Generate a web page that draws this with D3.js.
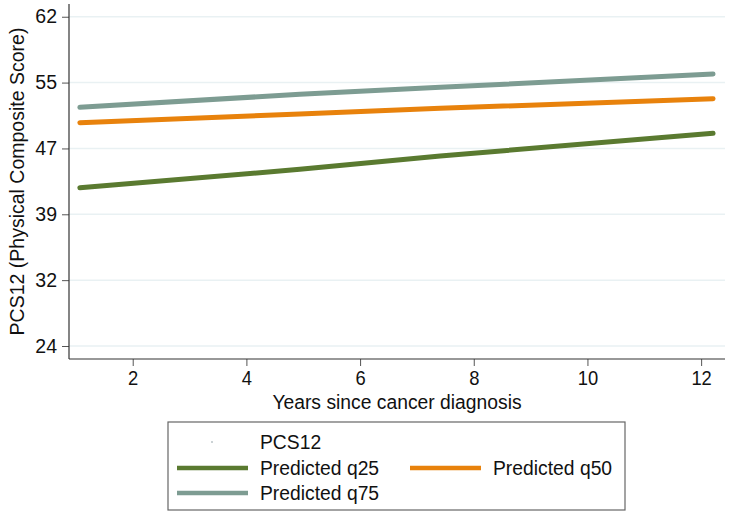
<!DOCTYPE html>
<html>
<head>
<meta charset="utf-8">
<script src="https://cdn.jsdelivr.net/npm/d3@7"></script>
<style>
  html, body { margin: 0; padding: 0; background: #fff; }
  svg { display: block; font-family: "Liberation Sans", Arial, sans-serif; }
</style>
</head>
<body>
<svg id="chart" width="733" height="516"></svg>
<script>
// ---- data ----
const years = [1.07, 4.94, 7.41, 12.21];
const q25 = [42.47, 44.59, 46.13, 48.75];
const q50 = [49.97, 50.97, 51.63, 52.74];
const q75 = [51.75, 53.25, 54.05, 55.59];
const yTickValues = [24.2, 31.8, 39.4, 47.0, 54.6, 62.2];
const yTickLabels = ["24", "32", "39", "47", "55", "62"];
const xTickValues = [2, 4, 6, 8, 10, 12];
const seriesNames = ["Predicted q25", "Predicted q50", "Predicted q75"];
const seriesColors = ["#5a7a30", "#e8820c", "#7d9c92"];
const scatterName = "PCS12";
const xTitle = "Years since cancer diagnosis";
const yTitle = "PCS12 (Physical Composite Score)";

(function () {
const svg = d3.select("#chart");
const pLeft = 69, pRight = 725, pTop = 4, pBottom = 359;

const x = d3.scaleLinear().domain([0.879, 12.42]).range([pLeft, pRight]);
const y = d3.scaleLinear().domain([22.70, 63.67]).range([pBottom, pTop]);

// gridlines
svg.append("g").selectAll("line").data(yTickValues).join("line")
  .attr("x1", pLeft).attr("x2", pRight)
  .attr("y1", d => y(d)).attr("y2", d => y(d))
  .attr("stroke", "#e9f1f3").attr("stroke-width", 1.5);

// y axis
const yAxis = d3.axisLeft(y).tickValues(yTickValues)
  .tickFormat((d, i) => yTickLabels[i]).tickSize(7).tickPadding(5).tickSizeOuter(0);
const gy = svg.append("g").attr("transform", `translate(${pLeft},0)`).call(yAxis);
gy.select(".domain").remove();
gy.append("line").attr("x1", 0).attr("x2", 0).attr("y1", pTop).attr("y2", pBottom)
  .attr("stroke", "#333").attr("stroke-width", 1.2);
gy.selectAll(".tick line").attr("stroke", "#555");
gy.selectAll(".tick text").attr("font-size", 19.5).attr("fill", "#111")
  .attr("font-family", "Liberation Sans, Arial, sans-serif");

// x axis
const xAxis = d3.axisBottom(x).tickValues(xTickValues)
  .tickFormat(d3.format("d")).tickSize(7).tickPadding(5).tickSizeOuter(0);
const gx = svg.append("g").attr("transform", `translate(0,${pBottom})`).call(xAxis);
gx.select(".domain").remove();
gx.append("line").attr("x1", pLeft).attr("x2", pRight).attr("y1", 0).attr("y2", 0)
  .attr("stroke", "#333").attr("stroke-width", 1.2);
gx.selectAll(".tick line").attr("stroke", "#555");
gx.selectAll(".tick text").attr("font-size", 20).attr("fill", "#111")
  .attr("transform", "scale(0.92,1)")
  .attr("font-family", "Liberation Sans, Arial, sans-serif");

// titles
svg.append("g").attr("transform", `translate(${(pLeft + pRight) / 2},409)`)
  .append("text").attr("text-anchor", "middle").attr("font-size", 21)
  .attr("transform", "scale(0.92,1)").attr("fill", "#111").text(xTitle);
svg.append("text").attr("transform", `translate(24,${(pTop + pBottom) / 2}) rotate(-90)`)
  .attr("text-anchor", "middle").attr("font-size", 19.5).attr("fill", "#111").text(yTitle);

// lines
const series = [q25, q50, q75];
const line = d3.line().x((d, i) => x(years[i])).y(d => y(d));
svg.append("g").selectAll("path").data(series).join("path")
  .attr("d", d => line(d))
  .attr("fill", "none")
  .attr("stroke", (d, i) => seriesColors[i])
  .attr("stroke-width", 5)
  .attr("stroke-linecap", "round");

// legend
const lg = svg.append("g");
lg.append("rect").attr("x", 168).attr("y", 422).attr("width", 457).attr("height", 88)
  .attr("fill", "#fff").attr("stroke", "#666").attr("stroke-width", 1.2);
lg.append("circle").attr("cx", 212).attr("cy", 442).attr("r", 0.8).attr("fill", "#8a9aa0");
function legendText(tx, ty, str) {
  lg.append("g").attr("transform", `translate(${tx},${ty})`)
    .append("text").attr("font-size", 21).attr("transform", "scale(0.92,1)")
    .attr("fill", "#111").text(str);
}
legendText(260, 449, scatterName);
const legendItems = [
  { i: 0, lx: 177, tx: 260, cy: 468 },
  { i: 1, lx: 410, tx: 493, cy: 468 },
  { i: 2, lx: 177, tx: 260, cy: 493 }
];
legendItems.forEach(it => {
  lg.append("line").attr("x1", it.lx).attr("x2", it.lx + 71)
    .attr("y1", it.cy).attr("y2", it.cy)
    .attr("stroke", seriesColors[it.i]).attr("stroke-width", 4.5);
  legendText(it.tx, it.cy + 7, seriesNames[it.i]);
});
})();
</script>
</body>
</html>
